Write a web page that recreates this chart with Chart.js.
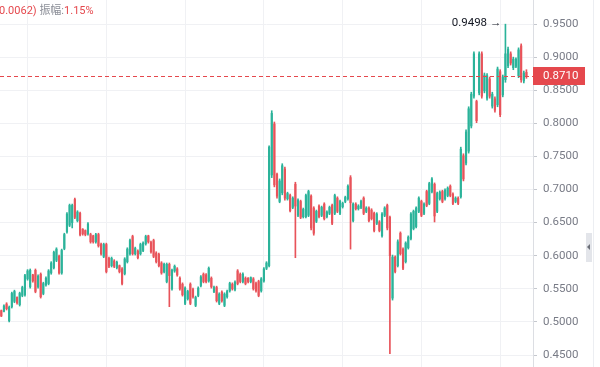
<!DOCTYPE html>
<html>
<head>
<meta charset="utf-8">
<script src="https://cdn.jsdelivr.net/npm/chart.js@4.4.1/dist/chart.umd.min.js"></script>
<style>
  body { margin: 0; background: #fff; }
  #wrap { position: relative; width: 600px; height: 367px; overflow: hidden; font-family: Roboto, "Noto Sans CJK SC", sans-serif; }
  #info { position: absolute; left: -1px; top: 1px; font-size: 11px; color: #e5484d; white-space: nowrap; }
  #info .lbl { color: #8a8d96; }
  #strip { position: absolute; left: 593px; top: 0; width: 1px; height: 367px; background: #eceef2; }
  #tab { position: absolute; left: 586px; top: 233px; width: 6px; height: 29px; background: #e3e5ea; }
  #tab:after { content: ''; position: absolute; left: 1px; top: 11px; border-right: 3px solid #6b6e77; border-top: 3px solid transparent; border-bottom: 3px solid transparent; }
</style>
</head>
<body>
<div id="wrap">
  <canvas id="chart" width="600" height="367"></canvas>
  <div id="info">0.0062) <span class="lbl">振幅:</span>1.15%</div>
  <div id="strip"></div>
  <div id="tab"></div>
</div>
<script>
// daily candles
var opens = [
  .517,.516,.527,.502,.523,.531,.537,.526,.540,.541,
  .565,.553,.571,.578,.553,.572,.543,.556,.558,.574,
  .582,.593,.599,.574,.611,.636,.646,.650,.685,.653,
  .664,.640,.638,.633,.632,.630,.621,.632,.617,.599,
  .617,.596,.585,.592,.582,.585,.580,.573,.591,.603,
  .629,.603,.607,.603,.608,.618,.630,.620,.623,.604,
  .602,.589,.576,.561,.587,.550,.577,.580,.566,.557,
  .528,.535,.557,.549,.525,.540,.555,.572,.571,.562,
  .566,.546,.552,.528,.545,.525,.538,.547,.557,.549,
  .577,.572,.561,.566,.566,.561,.565,.558,.561,.547,
  .562,.581,.585,.722,.799,.723,.682,.695,.731,.686,
  .691,.673,.708,.661,.682,.659,.659,.661,.690,.672,
  .652,.675,.661,.678,.659,.664,.676,.664,.687,.664,
  .674,.682,.686,.718,.653,.678,.671,.673,.687,.667,
  .672,.669,.664,.649,.651,.630,.661,.676,.658,.536,
  .598,.585,.634,.610,.591,.612,.626,.641,.644,.667,
  .682,.664,.697,.679,.697,.708,.667,.686,.697,.686,
  .691,.705,.693,.682,.687,.689,.751,.740,.758,.796,
  .841,.833,.846,.905,.849,.838,.867,.826,.837,.828,
  .878,.843,.866,.887,.905,.884,.886,.872,.917,.864,.877
];
var highs = [
  .518,.526,.529,.524,.545,.548,.538,.545,.554,.572,
  .579,.580,.572,.580,.571,.574,.560,.568,.579,.591,
  .607,.612,.601,.610,.634,.665,.678,.678,.687,.668,
  .666,.641,.639,.650,.634,.631,.634,.634,.619,.619,
  .619,.598,.598,.594,.592,.586,.582,.597,.612,.625,
  .631,.613,.609,.619,.621,.631,.631,.622,.625,.606,
  .604,.591,.589,.589,.589,.580,.586,.582,.568,.559,
  .553,.548,.559,.551,.539,.553,.570,.574,.573,.583,
  .568,.554,.554,.544,.547,.544,.548,.560,.559,.562,
  .579,.574,.574,.568,.567,.568,.567,.560,.563,.567,
  .582,.591,.766,.819,.802,.725,.716,.739,.734,.696,
  .693,.689,.711,.686,.684,.672,.693,.699,.692,.674,
  .669,.677,.675,.680,.668,.675,.678,.693,.689,.684,
  .681,.690,.707,.721,.680,.680,.677,.684,.689,.674,
  .674,.671,.666,.665,.653,.665,.674,.678,.660,.601,
  .600,.624,.636,.612,.621,.630,.665,.669,.674,.689,
  .684,.680,.699,.711,.718,.710,.696,.698,.699,.701,
  .704,.707,.695,.689,.689,.764,.754,.790,.825,.847,
  .908,.835,.908,.908,.876,.875,.870,.847,.840,.885,
  .881,.873,.9498,.915,.908,.900,.899,.914,.920,.879,.881
];
var lows = [
  .508,.515,.518,.500,.521,.529,.527,.524,.538,.539,
  .563,.551,.560,.544,.551,.536,.541,.554,.556,.572,
  .580,.591,.572,.572,.609,.634,.644,.642,.656,.651,
  .630,.631,.630,.631,.619,.619,.619,.613,.601,.597,
  .574,.582,.583,.582,.580,.574,.556,.571,.589,.601,
  .601,.601,.595,.601,.606,.616,.619,.604,.597,.589,
  .583,.572,.574,.559,.523,.548,.575,.569,.548,.539,
  .526,.533,.526,.536,.523,.538,.553,.559,.559,.560,
  .551,.544,.530,.526,.530,.523,.536,.545,.548,.547,
  .556,.559,.559,.556,.559,.559,.548,.545,.538,.545,
  .560,.579,.583,.718,.704,.687,.680,.692,.684,.684,
  .666,.671,.597,.659,.656,.657,.657,.659,.639,.631,
  .650,.657,.659,.654,.657,.662,.647,.662,.665,.662,
  .672,.680,.684,.610,.651,.669,.669,.671,.662,.665,
  .651,.654,.636,.647,.636,.628,.659,.639,.452,.533,
  .574,.583,.601,.579,.589,.610,.624,.639,.642,.665,
  .659,.662,.674,.677,.695,.651,.665,.684,.680,.684,
  .689,.689,.677,.680,.677,.687,.713,.737,.755,.793,
  .838,.801,.843,.838,.846,.835,.838,.823,.817,.825,
  .810,.840,.862,.884,.888,.881,.884,.869,.862,.861,.868
];
var closes = [
  .509,.524,.520,.522,.543,.546,.529,.543,.552,.570,
  .577,.578,.562,.546,.569,.538,.558,.566,.577,.589,
  .605,.610,.574,.608,.632,.663,.676,.676,.658,.666,
  .632,.633,.632,.648,.621,.621,.632,.615,.603,.617,
  .576,.584,.596,.584,.590,.576,.558,.595,.610,.623,
  .603,.611,.597,.617,.619,.629,.621,.606,.599,.591,
  .585,.574,.587,.587,.570,.578,.584,.571,.550,.541,
  .551,.546,.528,.538,.537,.551,.568,.561,.561,.581,
  .553,.552,.532,.542,.532,.542,.546,.558,.550,.560,
  .558,.561,.572,.558,.561,.567,.550,.547,.540,.565,
  .580,.589,.764,.815,.707,.690,.713,.736,.687,.694,
  .668,.687,.675,.684,.658,.670,.691,.697,.642,.634,
  .667,.659,.673,.656,.666,.673,.649,.691,.667,.682,
  .679,.688,.705,.680,.678,.671,.675,.682,.664,.672,
  .653,.656,.638,.663,.638,.663,.672,.642,.600,.598,
  .576,.621,.603,.581,.619,.628,.663,.667,.672,.687,
  .661,.678,.676,.709,.716,.660,.694,.696,.682,.699,
  .702,.691,.679,.687,.679,.761,.716,.787,.822,.844,
  .905,.804,.905,.841,.873,.872,.841,.844,.820,.882,
  .813,.870,.905,.912,.891,.897,.897,.911,.866,.876,.871
];
var slots = 203; // two empty slots after the last candle
var yMin = 0.4319, yMax = 0.9863;

var upColor = '#2bb39a';
var downColor = '#e8535a';
var lineRed = '#e5484d';

var labels = [];
for (var i = 0; i < slots; i++) labels.push(i);

function candleColor(ctx) {
  var i = ctx.dataIndex;
  return closes[i] >= opens[i] ? upColor : downColor;
}

function noPadding(s) {
  s.paddingTop = 0;
  s.paddingBottom = 0;
  s.paddingLeft = 0;
  s.paddingRight = 0;
}

var lastPrice = {
  id: 'lastPrice',
  afterDraw: function(chart) {
    var ctx = chart.ctx, a = chart.chartArea, y = chart.scales.y, x = chart.scales.x;
    var last = closes[closes.length - 1];
    var py = Math.round(y.getPixelForValue(last)) + 0.5;
    ctx.save();
    ctx.strokeStyle = lineRed;
    ctx.lineWidth = 1;
    ctx.setLineDash([4, 3]);
    ctx.beginPath();
    ctx.moveTo(a.left, py);
    ctx.lineTo(a.right, py);
    ctx.stroke();
    ctx.setLineDash([]);
    ctx.fillStyle = lineRed;
    ctx.fillRect(a.right, py - 9.5, 52, 18);
    ctx.fillStyle = '#fff';
    ctx.font = '11.5px Roboto';
    ctx.textBaseline = 'middle';
    ctx.fillText(last.toFixed(4), a.right + 10, py);

    // highest point marker
    var top = Math.max.apply(null, highs);
    var hi = highs.indexOf(top);
    var hx = x.getPixelForValue(hi);
    var hy = y.getPixelForValue(top);
    ctx.fillStyle = '#131722';
    ctx.textAlign = 'right';
    ctx.font = '11.5px Roboto';
    ctx.fillText(top.toFixed(4) + ' \u2192', hx - 4, hy - 1);
    ctx.restore();
  }
};

new Chart(document.getElementById('chart'), {
  type: 'bar',
  data: {
    labels: labels,
    datasets: [{
      data: opens.map(function(o, i) { return [o, closes[i]]; }),
      backgroundColor: candleColor,
      borderWidth: 0,
      barThickness: 1.5,
      minBarLength: 1,
      grouped: false
    }, {
      data: lows.map(function(l, i) { return [l, highs[i]]; }),
      backgroundColor: candleColor,
      borderWidth: 0,
      barThickness: 1,
      grouped: false
    }]
  },
  options: {
    responsive: false,
    devicePixelRatio: 1,
    animation: false,
    layout: { padding: 0 },
    plugins: { legend: { display: false }, tooltip: { enabled: false } },
    scales: {
      x: {
        offset: true,
        grid: { offset: false, color: '#f0f1f4', drawTicks: false },
        ticks: { display: false },
        border: { display: false },
        afterBuildTicks: function(s) {
          s.ticks = s.ticks.filter(function(t) { return t.value % 30 === 10; });
        },
        afterFit: function(s) { s.height = 0; noPadding(s); }
      },
      y: {
        position: 'right',
        min: yMin,
        max: yMax,
        grid: { color: '#f0f1f4', tickLength: 4, tickColor: '#c5c8ce' },
        border: { color: '#dcdee3' },
        ticks: {
          stepSize: 0.05,
          includeBounds: false,
          padding: 6,
          color: '#787b86',
          font: { family: 'Roboto', size: 11.5 },
          callback: function(v) { return v.toFixed(4); }
        },
        afterFit: function(s) { s.width = 67; noPadding(s); }
      }
    }
  },
  plugins: [lastPrice]
});
</script>
</body>
</html>
